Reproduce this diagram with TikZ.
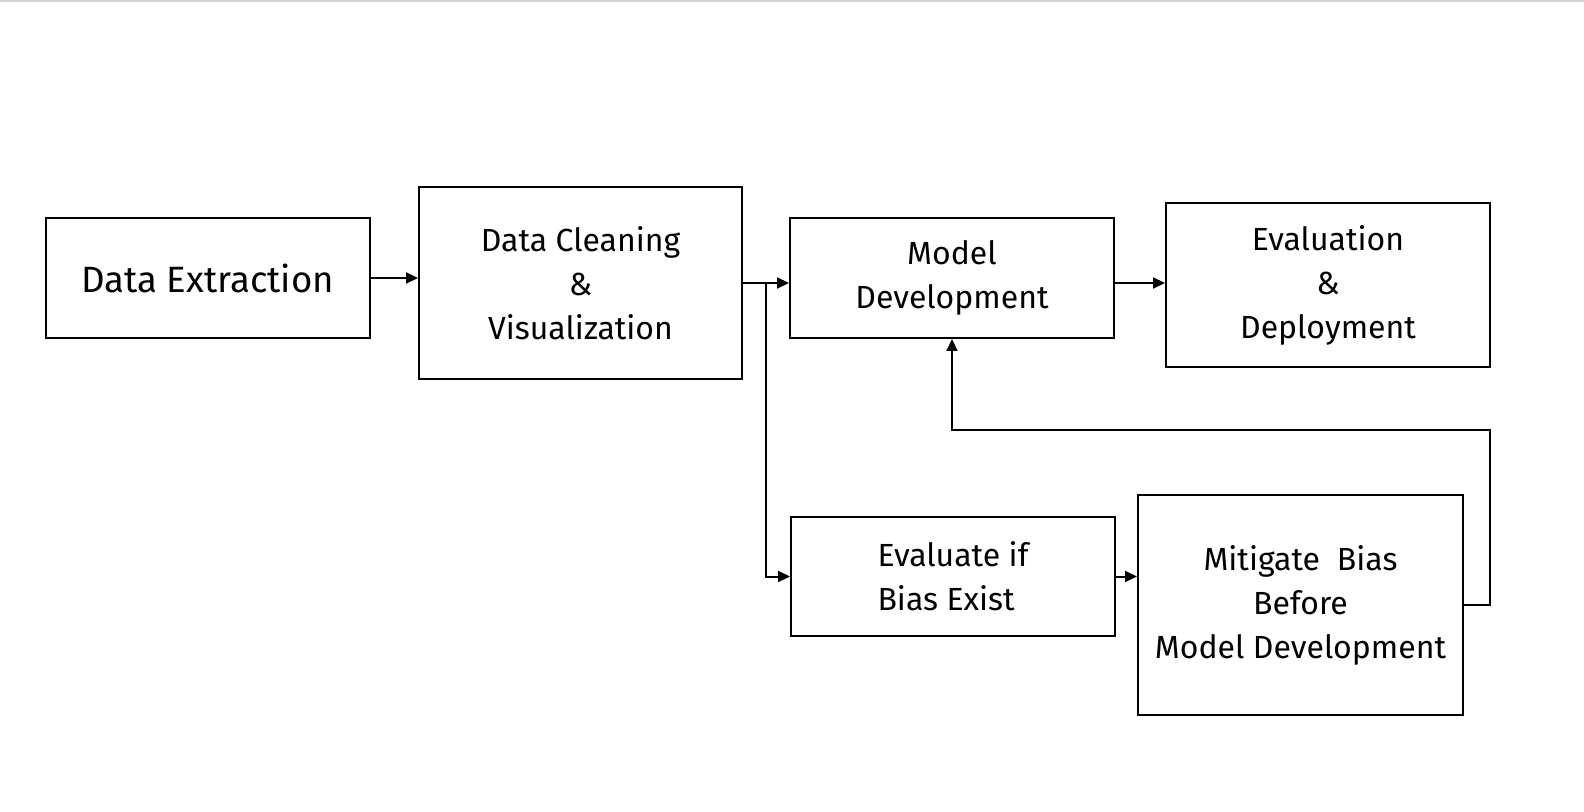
\documentclass[tikz,border=0pt]{standalone}
\usepackage{fontspec}
\setmainfont{Fira Sans}
\usetikzlibrary{arrows.meta,calc}

\begin{document}
\begin{tikzpicture}[x=0.5pt,y=-0.5pt,
    stagebox/.style={draw,line width=1pt,align=center,font=\fontsize{16}{22}\selectfont},
    flow/.style={line width=1pt,-{Triangle[length=6pt,width=5.5pt]}}]
    \useasboundingbox (0,0) rectangle (1584,812);
    % Top rule
    \draw[gray!35,line width=1pt] (0,1) -- (1584,1);

    % Boxes (upper row)
    \node[stagebox,minimum width=162pt,minimum height=60pt,font=\fontsize{18.3}{22}\selectfont] (extract) at (207.5,278) {Data Extraction};
    \node[stagebox,minimum width=161.5pt,minimum height=96pt] (clean) at (580.5,283) {Data Cleaning\\\&\\Visualization};
    \node[stagebox,minimum width=162pt,minimum height=60pt] (model) at (952,278) {Model\\Development};
    \node[stagebox,minimum width=162pt,minimum height=82pt] (deploy) at (1328,285) {Evaluation\\\&\\Deployment};

    % Boxes (lower row)
    \node[stagebox,align=left,minimum width=162pt,minimum height=59.5pt] (bias) at (953,576.5) {Evaluate if\\Bias Exist};
    \node[stagebox,minimum width=162.5pt,minimum height=110pt] (mitigate) at (1300.5,605) {Mitigate~~Bias\\Before\\Model Development};

    % Arrows
    \draw[flow] (extract.east) -- (extract.east -| clean.west);
    \draw[flow] (clean.east) -- (clean.east -| model.west);
    \draw[flow] ([yshift=-2.5pt]model.east) -- ([yshift=-2.5pt]model.east -| deploy.west);
    \coordinate (split) at ($(clean.east)!0.5!(clean.east -| model.west)$);
    \draw[flow] (split) |- (bias.west);
    \draw[flow] (bias.east) -- (bias.east -| mitigate.west);

    % Feedback loop
    \coordinate (back) at (1490,430);
    \draw[flow] (mitigate.east) -| (back) -| (model.south);
\end{tikzpicture}
\end{document}
